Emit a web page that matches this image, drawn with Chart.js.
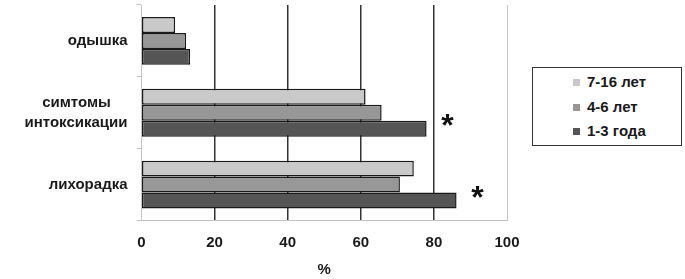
<!DOCTYPE html>
<html>
<head>
<meta charset="utf-8">
<script src="https://cdn.jsdelivr.net/npm/chart.js@4/dist/chart.umd.min.js"></script>
<style>
  html, body { margin: 0; padding: 0; background: #fff; }
  #wrap { position: relative; width: 685px; height: 279px; }
  #legend {
    position: absolute; left: 532px; top: 67px; width: 148px; height: 77px;
    border: 1.5px solid #333; background: #fff;
    font-family: "Liberation Sans", Arial, sans-serif; font-weight: bold; font-size: 15px; color: #1a1a1a;
  }
  .item { position: absolute; left: 40px; height: 16px; line-height: 16px; white-space: nowrap; }
  .sw { display: inline-block; width: 7px; height: 7px; margin-right: 7px; vertical-align: 1px; }
</style>
</head>
<body>
<div id="wrap">
  <canvas id="c" width="685" height="279"></canvas>
  <div id="legend"></div>
</div>
<script>
const categories = ["одышка", ["симтомы\u00A0\u00A0\u00A0\u00A0", "интоксикации"], "лихорадка"];
const seriesNames = ["7-16 лет", "4-6 лет", "1-3 года"];
const age7to16 = [9.2, 61.3, 74.5];
const age4to6 = [12.2, 65.7, 70.7];
const age1to3 = [13.3, 78.0, 86.2];
const significant = [false, true, true];
const xTicks = [0, 20, 40, 60, 80, 100];
const axisTitle = "%";

const colors = ["#c9c9c9", "#979797", "#555555"];
const seriesValues = [age7to16, age4to6, age1to3];
const FONT = '"Liberation Sans", Arial, sans-serif';

const starPlugin = {
  id: 'stars',
  afterDatasetsDraw(chart) {
    const meta = chart.getDatasetMeta(2);
    const ctx = chart.ctx;
    ctx.save();
    ctx.fillStyle = '#111';
    ctx.font = 'bold 32px ' + FONT;
    ctx.textAlign = 'center';
    ctx.textBaseline = 'alphabetic';
    significant.forEach((s, i) => {
      if (!s) return;
      const el = meta.data[i];
      ctx.fillText('*', el.x + 21, el.y + 7);
    });
    ctx.restore();
  }
};

new Chart(document.getElementById('c'), {
  type: 'bar',
  data: {
    labels: categories,
    datasets: seriesNames.map((n, k) => ({
      label: n,
      data: seriesValues[k],
      backgroundColor: colors[k],
      borderColor: '#1a1a1a',
      borderWidth: 1.5,
      borderSkipped: false,
      categoryPercentage: 0.667,
      barPercentage: 1.0
    }))
  },
  options: {
    indexAxis: 'y',
    responsive: false,
    animation: false,
    devicePixelRatio: 1,
    layout: { padding: { top: 5, right: 178, left: 0, bottom: 0 } },
    plugins: { legend: { display: false }, tooltip: { enabled: false } },
    scales: {
      x: {
        min: 0, max: 100,
        afterBuildTicks: (s) => { s.ticks = xTicks.map(v => ({ value: v })); },
        afterFit: (s) => { s.height = 58.5; },
        grid: {
          color: (c) => (c.tick && (c.tick.value === 0 || c.tick.value === 100)) ? '#c4c4c4' : '#333',
          lineWidth: (c) => (c.tick && (c.tick.value === 0 || c.tick.value === 100)) ? 1 : 1.5,
          drawTicks: false
        },
        border: { color: '#c4c4c4', width: 1 },
        ticks: { color: '#1a1a1a', font: { family: FONT, weight: 'bold', size: 15 }, padding: 13, maxRotation: 0 },
        title: { display: true, text: axisTitle, color: '#1a1a1a', font: { family: FONT, weight: 'bold', size: 15 }, padding: 0 }
      },
      y: {
        afterFit: (s) => { s.width = 141.5; s.paddingTop = 0; s.paddingBottom = 0; },
        grid: { drawOnChartArea: false, drawTicks: true, tickLength: 5, color: '#c4c4c4', offset: true },
        border: { color: '#c4c4c4', width: 1 },
        ticks: { color: '#1a1a1a', font: { family: FONT, weight: 'bold', size: 15, lineHeight: 1.35 }, padding: 9 }
      }
    }
  },
  plugins: [starPlugin]
});

const lg = document.getElementById('legend');
const rowTops = [6, 31, 55];
seriesNames.forEach((n, k) => {
  const d = document.createElement('div');
  d.className = 'item';
  d.style.top = rowTops[k] + 'px';
  d.innerHTML = '<span class="sw" style="background:' + colors[k] + '"></span>' + n;
  lg.appendChild(d);
});
</script>
</body>
</html>
